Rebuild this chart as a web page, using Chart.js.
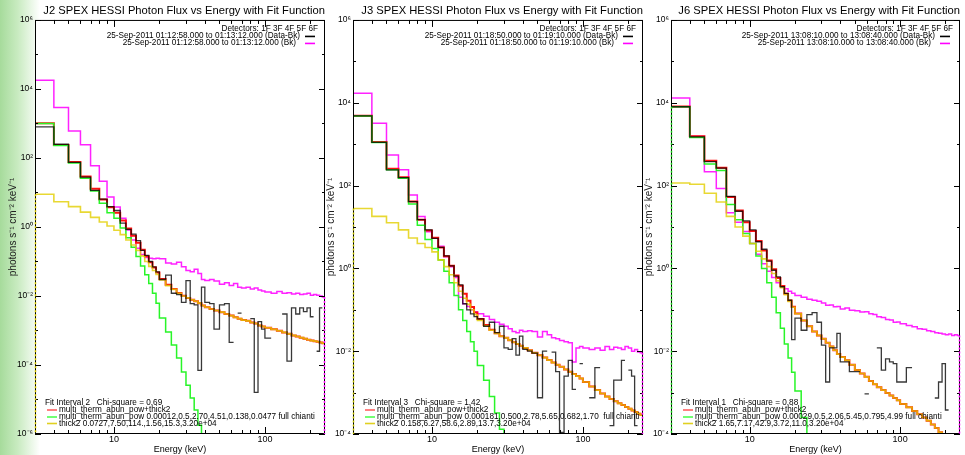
<!DOCTYPE html>
<html>
<head>
<meta charset="utf-8">
<script src="https://cdn.jsdelivr.net/npm/chart.js@4.4.0/dist/chart.umd.min.js"></script>
<style>
  html, body { margin: 0; padding: 0; }
  body {
    width: 965px; height: 455px; overflow: hidden; position: relative;
    background: linear-gradient(90deg, #a6db9b 0px, #c9ebc1 18px, #ffffff 40px);
  }
  .panel { position: absolute; top: 0; }
</style>
</head>
<body>
<div class="panel" style="left:0px"><canvas id="j2" width="330" height="455"></canvas></div>
<div class="panel" style="left:318px"><canvas id="j3" width="330" height="455"></canvas></div>
<div class="panel" style="left:636px"><canvas id="j6" width="329" height="455"></canvas></div>
<script>
// energy bin edges (keV), shared by all three panels
const EDGES = [3,4,5,6,7,8,9,10,11,12,13,14,15,16,17,18,19,20,22,24,26,28,30,32,34,36,38,40,
  43,46,50,54,58,62,66,70,75,80,85,90,95,100,110,120,130,140,150,160,170,180,190,200,210,220,230,240,250];

const X_MAJOR = [10, 100];
const X_MINOR = [4,5,6,7,8,9,20,30,40,50,60,70,80,90,200];

// ---- J2 (photons s-1 cm-2 keV-1, one value per bin) ----
const J2_BK = [1.8e4, 2900, 600, 240, 59, 21, 7.4, 3.8, 1.8, 0.82,
  0.42, 0.24, 0.16, 0.13, 0.125, 0.12, 0.125, 0.12, 0.09, 0.085,
  0.095, 0.07, 0.055, 0.05, 0.06, 0.045, 0.03, 0.028, 0.03, 0.027,
  0.022, 0.024, 0.02, 0.023, 0.018, 0.017, 0.018, 0.016, 0.017, 0.015,
  0.014, 0.013, 0.012, 0.0135, 0.012, 0.0125, 0.0115, 0.012, 0.011, 0.0115,
  0.012, 0.0105, 0.011, 0.0105, 0.01, 0.0093];
const J2_DATA = [800, 250, 74, 28, 11.5, 6.4, 3.9, 3.0, 1.3, 0.85,
  0.62, 0.40, 0.21, 0.15, 0.10, 0.07, 0.05, 0.03, 0.04, 0.012,
  0.011, 0.0065, 0.028, 0.006, 0.0055, 7e-5, 0.018, 0.0065, 0.006, 0.0011,
  0.0055, 0.006, 0.00045, null, 0.0032, null, null, 0.0022, 1.6e-5, 0.0018,
  0.0011, 0.0006, null, null, 0.003, 0.00013, 0.0045, 0.003, 0.0045, 0.0035,
  0.0045, 0.0025, null, 0.00025, 0.0045, null];
const J2_TOTAL = [1010, 236, 76, 29, 12.9, 6.3, 3.7, 2.6, 1.53, 0.91,
  0.56, 0.35, 0.22, 0.141, 0.095, 0.067, 0.048, 0.031, 0.021, 0.0159,
  0.0122, 0.0101, 0.0088, 0.0078, 0.0070, 0.0062, 0.0053, 0.0047, 0.0042, 0.0038,
  0.0034, 0.0030, 0.0027, 0.0024, 0.0022, 0.0020, 0.0019, 0.0017, 0.0016, 0.0014,
  0.0013, 0.0012, 0.00108, 0.00098, 0.00088, 0.0008, 0.00072, 0.00067, 0.00062, 0.00058,
  0.00054, 0.00051, 0.00049, 0.00047, 0.00045, 0.00043];
const J2_THERM = [1000, 230, 72, 26, 11, 4.9, 2.6, 1.8, 0.93, 0.49,
  0.26, 0.14, 0.074, 0.041, 0.023, 0.012, 0.0062, 0.0023, 9e-4, 3.8e-4,
  1.6e-4, 6.3e-5, 2.6e-5, 1.1e-5, 5e-6, 1.8e-6, 6e-7, null, null, null,
  null, null, null, null, null, null, null, null, null, null,
  null, null, null, null, null, null, null, null, null, null,
  null, null, null, null, null, null];
const J2_THICK = [8.9, 5.4, 3.9, 2.7, 1.9, 1.4, 1.07, 0.8, 0.6, 0.42,
  0.3, 0.21, 0.145, 0.1, 0.072, 0.055, 0.042, 0.029, 0.020, 0.0155,
  0.012, 0.0100, 0.0088, 0.0078, 0.0070, 0.0062, 0.0053, 0.0047, 0.0042, 0.0038,
  0.0034, 0.0030, 0.0027, 0.0024, 0.0022, 0.0020, 0.0019, 0.0017, 0.0016, 0.0014,
  0.0013, 0.0012, 0.00108, 0.00098, 0.00088, 0.0008, 0.00072, 0.00067, 0.00062, 0.00058,
  0.00054, 0.00051, 0.00049, 0.00047, 0.00045, 0.00043];

// ---- J3 ----
const J3_BK = [1.7e4, 3200, 550, 240, 59, 18, 7.7, 5.5, 3.4, 1.9,
  1.1, 0.6, 0.2, 0.14, 0.12, 0.1, 0.09, 0.08, 0.07, 0.058,
  0.05, 0.045, 0.04, 0.035, 0.03, 0.028, 0.032, 0.03, 0.031, 0.03,
  0.022, 0.03, 0.025, 0.021, 0.02, 0.018, 0.017, 0.016, 0.0055, 0.012,
  0.013, 0.012, 0.011, 0.012, 0.0105, 0.013, 0.011, 0.0125, 0.012, 0.011,
  0.013, 0.012, 0.01, 0.011, 0.0095, 0.0092];
const J3_DATA = [4800, 1100, 240, 155, 41, 15, 8.5, 5.3, 3.2, 2.0,
  1.15, 0.65, 0.4, 0.14, 0.1, 0.08, 0.068, 0.06, 0.04, 0.05,
  0.028, 0.04, 0.012, 0.011, 0.02, 0.008, 0.023, 0.011, 0.01, 0.009,
  0.00075, 0.01, null, 0.0095, 0.0032, 0.00011, 0.0025, 0.006, 0.0012, null,
  0.005, null, 0.00075, 0.004, null, null, 0.00016, 0.002, 0.002, 0.006,
  null, 0.0035, 0.0025, 0.00016, null, null];
const J3_TOTAL = [4830, 1120, 253, 158, 41.5, 15, 8.2, 5.5, 3.2, 1.95,
  1.15, 0.67, 0.38, 0.245, 0.165, 0.117, 0.086, 0.06, 0.043, 0.033,
  0.027, 0.023, 0.021, 0.0185, 0.0165, 0.015, 0.0135, 0.012, 0.0105, 0.0092,
  0.008, 0.007, 0.0061, 0.0053, 0.0047, 0.0042, 0.0036, 0.0032, 0.0028, 0.0025,
  0.0022, 0.0018, 0.0014, 0.00115, 0.00095, 0.0008, 0.0007, 0.00062, 0.00055, 0.0005,
  0.00045, 0.00041, 0.00037, 0.00034, 0.00031, 0.00029];
const J3_THERM = [4800, 1100, 240, 150, 36, 11, 5, 3.0, 1.6, 0.85,
  0.45, 0.22, 0.1, 0.055, 0.03, 0.017, 0.01, 0.0045, 0.002, 0.0008,
  0.00032, 0.00013, 5e-5, 2e-5, null, null, null, null, null, null,
  null, null, null, null, null, null, null, null, null, null,
  null, null, null, null, null, null, null, null, null, null,
  null, null, null, null, null, null];
const J3_THICK = [28, 18, 12.6, 8.5, 5.4, 4, 3.2, 2.5, 1.6, 1.1,
  0.7, 0.45, 0.28, 0.19, 0.135, 0.1, 0.076, 0.055, 0.041, 0.032,
  0.027, 0.023, 0.021, 0.0185, 0.0165, 0.015, 0.0135, 0.012, 0.0105, 0.0092,
  0.008, 0.007, 0.0061, 0.0053, 0.0047, 0.0042, 0.0036, 0.0032, 0.0028, 0.0025,
  0.0022, 0.0018, 0.0014, 0.00115, 0.00095, 0.0008, 0.0007, 0.00062, 0.00055, 0.0005,
  0.00045, 0.00041, 0.00037, 0.00034, 0.00031, 0.00029];

// ---- J6 ----
const J6_BK = [1.3e4, 1550, 217, 85, 22, 13, 7.8, 4, 2.2, 1.3,
  0.85, 0.6, 0.45, 0.38, 0.32, 0.28, 0.25, 0.22, 0.2, 0.18,
  0.17, 0.16, 0.145, 0.128, 0.13, 0.118, 0.12, 0.105, 0.11, 0.098,
  0.095, 0.088, 0.09, 0.08, 0.077, 0.068, 0.065, 0.058, 0.057, 0.05,
  0.051, 0.046, 0.042, 0.039, 0.035, 0.034, 0.031, 0.03, 0.028, 0.027,
  0.026, 0.025, 0.026, 0.024, 0.025, 0.024];
const J6_DATA = [8000, 1500, 380, 265, 55, 24, 14, 8.5, 4.4, 2.9,
  1.5, 0.9, 0.62, 0.36, 0.25, 0.17, 0.019, 0.063, 0.032, 0.076,
  0.085, 0.05, 0.014, 0.0018, 0.012, 0.012, 0.027, 0.0055, 0.0055, 0.0032,
  0.0032, null, 0.00093, null, null, 0.012, 0.0035, 0.0065, 0.0055, 0.005,
  0.0018, 0.0018, 0.004, null, null, null, null, null, 0.00074, 0.0018,
  0.005, 0.00038, null, null, null, null];
const J6_TOTAL = [8115, 1560, 395, 270, 53, 25, 13, 8, 4.6, 2.7,
  1.55, 0.95, 0.585, 0.376, 0.245, 0.167, 0.118, 0.081, 0.055, 0.04,
  0.03, 0.024, 0.02, 0.016, 0.013, 0.0105, 0.0085, 0.0072, 0.006, 0.0047,
  0.0035, 0.0029, 0.0024, 0.0019, 0.0016, 0.00135, 0.00115, 0.00098, 0.00085, 0.00074,
  0.00065, 0.00053, 0.00044, 0.00036, 0.0003, 0.00025, 0.00021, 0.00017, 0.00014, 0.00011,
  9e-5, 7.5e-5, 6e-5, 5e-5, 4e-5, 3.4e-5];
const J6_THERM = [8000, 1450, 330, 230, 35, 15, 7, 4.0, 2.0, 1.0,
  0.45, 0.2, 0.085, 0.036, 0.015, 0.0068, 0.0031, 0.0011, 0.00025, 4e-5,
  null, null, null, null, null, null, null, null, null, null,
  null, null, null, null, null, null, null, null, null, null,
  null, null, null, null, null, null, null, null, null, null,
  null, null, null, null, null, null];
const J6_THICK = [115, 108, 65, 40, 18, 10, 6, 4, 2.6, 1.7,
  1.1, 0.75, 0.5, 0.34, 0.23, 0.16, 0.115, 0.08, 0.055, 0.04,
  0.03, 0.024, 0.02, 0.016, 0.013, 0.0105, 0.0085, 0.0072, 0.006, 0.0047,
  0.0035, 0.0029, 0.0024, 0.0019, 0.0016, 0.00135, 0.00115, 0.00098, 0.00085, 0.00074,
  0.00065, 0.00053, 0.00044, 0.00036, 0.0003, 0.00025, 0.00021, 0.00017, 0.00014, 0.00011,
  9e-5, 7.5e-5, 6e-5, 5e-5, 4e-5, 3.4e-5];

// y axis decades: labelled / unlabelled
const Y_MAJOR_J2 = [1e-6, 1e-4, 1e-2, 1, 1e2, 1e4, 1e6];
const Y_MINOR_J2 = [1e-5, 1e-3, 1e-1, 1e1, 1e3, 1e5];
const Y_MAJOR_J36 = [1e-4, 1e-2, 1, 1e2, 1e4, 1e6];
const Y_MINOR_J36 = [1e-3, 1e-1, 1e1, 1e3, 1e5];

const FONT = '"Liberation Sans", Arial, Helvetica, sans-serif';
const SUP = {'-': '\u207B', '0': '\u2070', '1': '\u00B9', '2': '\u00B2', '3': '\u00B3',
  '4': '\u2074', '5': '\u2075', '6': '\u2076', '7': '\u2077', '8': '\u2078', '9': '\u2079'};

function powLabel(v) {
  const e = Math.round(Math.log10(v));
  return '10' + String(e).split('').map(c => SUP[c]).join('');
}

// histogram bins -> step outline points (null bins leave a gap)
function stepPoints(vals) {
  const pts = [];
  vals.forEach((v, i) => {
    if (v == null) { pts.push({x: EDGES[i], y: null}); return; }
    pts.push({x: EDGES[i], y: v}, {x: EDGES[i + 1], y: v});
  });
  return pts;
}

// frame, inward ticks, histogram end drops and the IDL-style legends
const panelDeco = {
  id: 'panelDeco',
  beforeDraw(chart) {
    const a = chart.chartArea, ctx = chart.ctx;
    ctx.save();
    ctx.fillStyle = '#fff';
    ctx.fillRect(a.left, a.top, a.right - a.left, a.bottom - a.top);
    ctx.restore();
  },
  afterDraw(chart, args, o) {
    const ctx = chart.ctx, a = chart.chartArea;
    const sx = chart.scales.x, sy = chart.scales.y;
    ctx.save();
    ctx.strokeStyle = '#000';
    ctx.lineWidth = 1;
    ctx.strokeRect(a.left + 0.5, a.top + 0.5, a.right - a.left - 1, a.bottom - a.top - 1);

    ctx.beginPath();
    const tickX = (v, len) => {
      const px = Math.round(sx.getPixelForValue(v)) + 0.5;
      ctx.moveTo(px, a.bottom); ctx.lineTo(px, a.bottom - len);
      ctx.moveTo(px, a.top); ctx.lineTo(px, a.top + len);
    };
    const tickY = (v, len) => {
      const py = Math.round(sy.getPixelForValue(v)) + 0.5;
      ctx.moveTo(a.left, py); ctx.lineTo(a.left + len, py);
      ctx.moveTo(a.right, py); ctx.lineTo(a.right - len, py);
    };
    X_MAJOR.forEach(v => tickX(v, 7));
    X_MINOR.forEach(v => tickX(v, 4));
    o.yMajor.forEach(v => tickY(v, 6));
    o.yMinor.forEach(v => tickY(v, 3));
    ctx.stroke();

    // histogram end drops along the left / right frame
    ctx.setLineDash([2, 2]);
    ctx.lineWidth = 1.5;
    const drop = (x, v, color) => {
      ctx.beginPath();
      ctx.strokeStyle = color;
      ctx.moveTo(x, Math.max(a.top, sy.getPixelForValue(v)));
      ctx.lineTo(x, a.bottom);
      ctx.stroke();
    };
    drop(a.left + 0.5, o.leftDrop[0], o.leftDrop[1]);
    drop(a.right - 0.5, o.rightDrop[0], o.rightDrop[1]);
    ctx.setLineDash([]);

    const swatch = (x0, x1, y, color) => {
      ctx.beginPath();
      ctx.strokeStyle = color;
      ctx.lineWidth = 1.6;
      ctx.moveTo(x0, y); ctx.lineTo(x1, y);
      ctx.stroke();
    };

    // top right
    ctx.fillStyle = '#000';
    ctx.font = '8.2px ' + FONT;
    ctx.textBaseline = 'middle';
    ctx.textAlign = 'right';
    ctx.fillText('Detectors: 1F 3F 4F 5F 6F', a.right - 7, a.top + 9);
    ctx.fillText(o.dataLabel, a.right - 25, a.top + 15.5);
    ctx.fillText(o.bkLabel, a.right - 29, a.top + 22.5);
    swatch(a.right - 20, a.right - 10, a.top + 16.5, '#000');
    swatch(a.right - 20, a.right - 10, a.top + 23.5, '#ff00ff');

    // bottom left
    ctx.textAlign = 'left';
    ctx.fillStyle = '#000';
    ctx.fillText(o.fitLabel, a.left + 10, a.bottom - 31);
    const rows = [['#ff6060', o.fit[0], 24], ['#50ff50', o.fit[1], 17], ['#e0d020', o.fit[2], 10.5]];
    rows.forEach(r => {
      swatch(a.left + 12, a.left + 22, a.bottom - r[2], r[0]);
      ctx.fillStyle = '#000';
      ctx.fillText(r[1], a.left + 24, a.bottom - r[2]);
    });
    ctx.restore();
  }
};

function makePanel(id, cfg) {
  const ds = (label, vals, color, width) => ({
    label: label,
    data: stepPoints(vals),
    borderColor: color,
    borderWidth: width,
    pointRadius: 0,
    fill: false,
    tension: 0,
    spanGaps: false
  });
  new Chart(document.getElementById(id), {
    type: 'line',
    data: {
      datasets: [
        ds('Data-Bk', cfg.data, 'rgba(0,0,0,0.78)', 1.3),
        ds('thick2', cfg.thick, 'rgba(226,206,0,0.8)', 1.6),
        ds('multi_therm_abun_pow', cfg.therm, 'rgb(40,245,40)', 1.5),
        ds('multi_therm_abun_pow+thick2', cfg.total, '#ff1010', 2.0),
        ds('Bk', cfg.bk, '#ff22ff', 1.5)
      ]
    },
    options: {
      responsive: false,
      animation: false,
      devicePixelRatio: 1,
      layout: { padding: { left: 0, right: 5, top: 0, bottom: 0 } },
      plugins: {
        legend: { display: false },
        tooltip: { enabled: false },
        title: {
          display: true,
          text: cfg.title,
          align: 'end',
          color: '#000',
          font: { family: FONT, size: 11.2, weight: 'normal' },
          padding: { top: 4, bottom: 2.5 }
        },
        panelDeco: {
          yMajor: cfg.yMajor, yMinor: cfg.yMinor,
          leftDrop: cfg.leftDrop, rightDrop: [cfg.bk[cfg.bk.length - 1], '#ff00ff'],
          dataLabel: cfg.dataLabel, bkLabel: cfg.bkLabel,
          fitLabel: cfg.fitLabel, fit: cfg.fit
        }
      },
      scales: {
        x: {
          type: 'logarithmic',
          min: 3, max: 250,
          grid: { display: false, drawTicks: false },
          border: { display: false },
          afterBuildTicks: s => { s.ticks = X_MAJOR.map(v => ({ value: v })); },
          afterFit: s => { s.height = 21; },
          ticks: {
            color: '#000', padding: 0, maxRotation: 0, autoSkip: false,
            font: { family: FONT, size: 9 },
            callback: v => String(v)
          },
          title: {
            display: true, text: 'Energy (keV)', color: '#000',
            font: { family: FONT, size: 9 }, padding: { top: 0, bottom: 0 }
          }
        },
        y: {
          type: 'logarithmic',
          min: cfg.yMajor[0], max: cfg.yMajor[cfg.yMajor.length - 1],
          grid: { display: false, drawTicks: false },
          border: { display: false },
          afterBuildTicks: s => { s.ticks = cfg.yMajor.map(v => ({ value: v })); },
          afterFit: s => { s.width = 35; },
          ticks: {
            color: '#000', padding: 2, autoSkip: false,
            font: { family: FONT, size: 8.5 },
            callback: v => powLabel(v)
          },
          title: {
            display: true, text: 'photons s\u207B\u00B9 cm\u207B\u00B2 keV\u207B\u00B9', color: '#222',
            font: { family: FONT, size: 10 }, padding: { top: 7, bottom: 0 }
          }
        }
      }
    },
    plugins: [panelDeco]
  });
}

makePanel('j2', {
  title: 'J2 SPEX HESSI Photon Flux vs Energy with Fit Function',
  data: J2_DATA, bk: J2_BK, total: J2_TOTAL, therm: J2_THERM, thick: J2_THICK,
  yMajor: Y_MAJOR_J2, yMinor: Y_MINOR_J2,
  leftDrop: [J2_THICK[0], '#e0d000'],
  dataLabel: '25-Sep-2011 01:12:58.000 to 01:13:12.000 (Data-Bk)',
  bkLabel: '25-Sep-2011 01:12:58.000 to 01:13:12.000 (Bk)',
  fitLabel: 'Fit Interval 2   Chi-square = 0.69',
  fit: ['multi_therm_abun_pow+thick2',
        'multi_therm_abun_pow 0.00012,0.5,2.70,4.51,0.138,0.0477 full chianti',
        'thick2 0.0727,7.50,114.,1.56,15.3,3.20e+04']
});
makePanel('j3', {
  title: 'J3 SPEX HESSI Photon Flux vs Energy with Fit Function',
  data: J3_DATA, bk: J3_BK, total: J3_TOTAL, therm: J3_THERM, thick: J3_THICK,
  yMajor: Y_MAJOR_J36, yMinor: Y_MINOR_J36,
  leftDrop: [J3_THICK[0], '#c8c800'],
  dataLabel: '25-Sep-2011 01:18:50.000 to 01:19:10.000 (Data-Bk)',
  bkLabel: '25-Sep-2011 01:18:50.000 to 01:19:10.000 (Bk)',
  fitLabel: 'Fit Interval 3   Chi-square = 1.42',
  fit: ['multi_therm_abun_pow+thick2',
        'multi_therm_abun_pow 0.000181,0.500,2.78,5.65,0.682,1.70  full chianti',
        'thick2 0.158,6.27,58.6,2.89,13.7,3.20e+04']
});
makePanel('j6', {
  title: 'J6 SPEX HESSI Photon Flux vs Energy with Fit Function',
  data: J6_DATA, bk: J6_BK, total: J6_TOTAL, therm: J6_THERM, thick: J6_THICK,
  yMajor: Y_MAJOR_J36, yMinor: Y_MINOR_J36,
  leftDrop: [J6_THERM[0], '#20e020'],
  dataLabel: '25-Sep-2011 13:08:10.000 to 13:08:40.000 (Data-Bk)',
  bkLabel: '25-Sep-2011 13:08:10.000 to 13:08:40.000 (Bk)',
  fitLabel: 'Fit Interval 1   Chi-square = 0.88',
  fit: ['multi_therm_abun_pow+thick2',
        'multi_therm_abun_pow 0.00029,0.5,2.06,5.45,0.795,4.99 full chianti',
        'thick2 1.65,7.17,42.9,3.72,11.0,3.20e+04']
});
</script>
</body>
</html>
